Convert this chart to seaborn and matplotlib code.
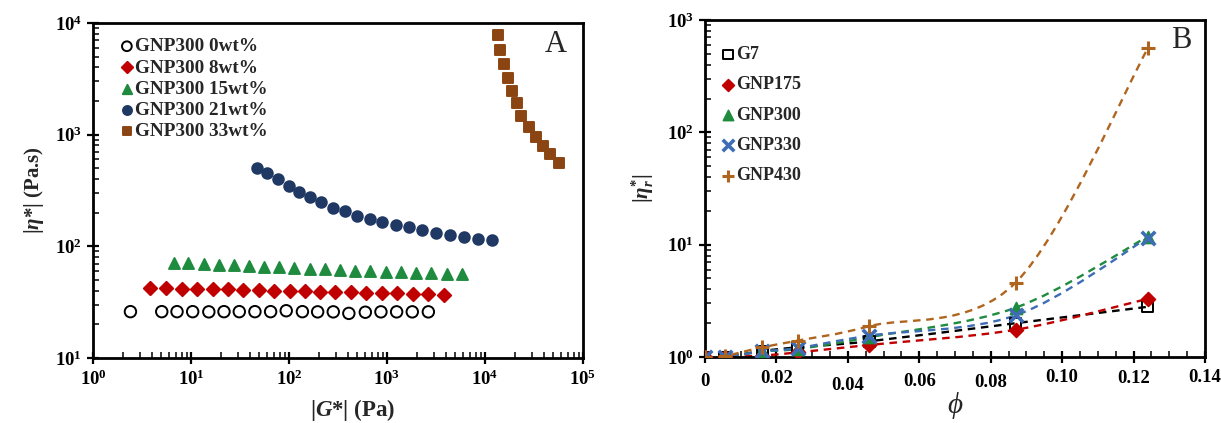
import numpy as np
import pandas as pd
import matplotlib
matplotlib.use("Agg")
import matplotlib.pyplot as plt
import matplotlib.transforms as mtransforms
from matplotlib.path import Path
from matplotlib.patches import PathPatch
from matplotlib.ticker import LogLocator, FuncFormatter, MultipleLocator, NullFormatter
import seaborn as sns

# ---------------- data: panel A (complex viscosity vs complex modulus) -------------
series_a = ["GNP300 0wt%", "GNP300 8wt%", "GNP300 15wt%", "GNP300 21wt%", "GNP300 33wt%"]

g_0 = [2.41, 5.03, 7.20, 10.4, 15.2, 21.7, 31.1, 44.9, 64.9, 93.7, 137, 196, 283,
       408, 601, 867, 1254, 1811, 2642]
eta_0 = [26.0, 26.0, 26.0, 26.0, 25.9, 26.0, 26.0, 26.0, 26.0, 26.5, 26.0, 25.9,
         25.9, 25.1, 25.7, 25.9, 25.9, 25.9, 25.9]

g_8 = [3.84, 5.55, 8.02, 11.6, 16.7, 24.0, 34.3, 49.1, 70.3, 102, 146, 208, 298,
       431, 617, 884, 1277, 1828, 2642, 3783]
eta_8 = [42.2, 42.0, 41.8, 41.6, 41.4, 41.1, 40.8, 40.5, 40.2, 39.9, 39.6, 39.3,
         39.0, 38.7, 38.4, 38.1, 37.9, 37.6, 37.3, 37.0]

g_15 = [6.70, 9.34, 13.5, 19.1, 27.7, 39.3, 55.7, 79.0, 113, 162, 234, 332, 471,
        669, 966, 1384, 1982, 2838, 4064, 5821]
eta_15 = [71.5, 70.5, 69.5, 68.5, 67.5, 66.5, 65.5, 64.7, 63.9, 63.0, 62.2, 61.4,
          60.6, 59.8, 59.1, 58.5, 58.0, 57.5, 57.0, 56.5]

g_21 = [46.9, 60.3, 77.4, 99.5, 127, 163, 214, 280, 370, 493, 664, 893, 1233,
        1675, 2296, 3141, 4385, 6109, 8511, 11780]
eta_21 = [506, 453, 397, 348, 308, 276, 247, 222, 206, 188, 176, 164, 155, 148,
          139, 133, 127, 122, 117, 113]

g_33 = [13480, 14360, 15700, 17180, 18790, 21120, 23530, 27920, 32820, 38930,
        46580, 56760]
eta_33 = [7852, 5673, 4283, 3207, 2467, 1911, 1482, 1181, 960, 791, 670, 561]

# ---------------- data: panel B (relative viscosity vs volume fraction) ------------
series_b = ["G7", "GNP175", "GNP300", "GNP330", "GNP430"]
phi = [0.0, 0.0055, 0.016, 0.026, 0.046, 0.087, 0.124]
rel_g7 = [1.0, 1.0, 1.13, 1.22, 1.38, 2.0, 2.8]
rel_gnp175 = [1.0, 1.0, 1.03, 1.10, 1.28, 1.75, 3.3]
rel_gnp300 = [1.0, 1.0, 1.12, 1.18, 1.50, 2.75, 11.8]
rel_gnp330 = [1.0, 1.0, 1.12, 1.20, 1.55, 2.35, 11.5]
rel_gnp430 = [1.0, 1.02, 1.22, 1.40, 1.88, 4.6, 560.0]
phi_ticks = [0.0, 0.02, 0.04, 0.06, 0.08, 0.10, 0.12, 0.14]

# ---------------- style ------------------------------------------------------------
sns.set_style("ticks")
plt.rcParams["font.family"] = ["Liberation Serif", "DejaVu Serif"]
plt.rcParams["font.weight"] = "bold"
plt.rcParams["mathtext.fontset"] = "custom"
plt.rcParams["mathtext.rm"] = "Liberation Serif:bold"
plt.rcParams["mathtext.bf"] = "Liberation Serif:bold"
plt.rcParams["mathtext.it"] = "Liberation Serif:italic:bold"
plt.rcParams["mathtext.bfit"] = "Liberation Serif:italic:bold"

RED = "#C00000"
GREEN = "#1E8B3E"
NAVY = "#203864"
BROWN_A = "#8B4513"
BLUE = "#3E6DB5"
BROWN_B = "#B0651E"
TICK_SIZE = 13.5

fig = plt.figure(figsize=(12.21, 4.23), dpi=100)
axA = fig.add_axes([93 / 1221, 1 - 358 / 423, 490 / 1221, 335 / 423])
axB = fig.add_axes([705 / 1221, 1 - 357 / 423, 500 / 1221, 337 / 423])


def pow10(v, _pos):
    e = int(round(np.log10(v)))
    return r"$10^{%d}$" % e


def style_axis(ax):
    for sp in ax.spines.values():
        sp.set_visible(True)
        sp.set_linewidth(2.0)
        sp.set_color("black")
    ax.tick_params(which="major", direction="inout", length=9, width=1.6,
                   labelsize=TICK_SIZE, colors="black", top=False, right=False)
    ax.tick_params(which="minor", direction="in", length=4, width=1.3,
                   top=False, right=False)


# ---------------- panel A ----------------------------------------------------------
frames_a = [
    (g_0, eta_0, "o", "none", "black", 68),
    (g_8, eta_8, "D", RED, RED, 46),
    (g_15, eta_15, "^", GREEN, GREEN, 62),
    (g_21, eta_21, "o", NAVY, NAVY, 58),
    (g_33, eta_33, "s", BROWN_A, BROWN_A, 52),
]
for name, (gx, ey, mk, fc, ec, size) in zip(series_a, frames_a):
    df = pd.DataFrame({"G": gx, "eta": ey})
    sns.scatterplot(data=df, x="G", y="eta", ax=axA, marker=mk, s=size,
                    facecolors=fc, edgecolors=ec, linewidths=1.4, label=name,
                    legend=False, zorder=3)

axA.set_xscale("log")
axA.set_yscale("log")
axA.set_xlim(1, 1e5)
axA.set_ylim(10, 1e4)
axA.xaxis.set_major_locator(LogLocator(base=10, numticks=10))
axA.yaxis.set_major_locator(LogLocator(base=10, numticks=10))
axA.xaxis.set_minor_locator(LogLocator(base=10, subs=np.arange(2, 10), numticks=20))
axA.yaxis.set_minor_locator(LogLocator(base=10, subs=np.arange(2, 10), numticks=20))
axA.xaxis.set_major_formatter(FuncFormatter(pow10))
axA.yaxis.set_major_formatter(FuncFormatter(pow10))
axA.xaxis.set_minor_formatter(NullFormatter())
axA.yaxis.set_minor_formatter(NullFormatter())
style_axis(axA)
axA.set_xlabel(r"|$\mathbfit{G}$*| (Pa)", fontsize=16.5, fontweight="bold")
axA.xaxis.set_label_coords(0.529, -0.115)
axA.set_ylabel(r"|$\mathbfit{\eta}$*| (Pa.s)", fontsize=15, fontweight="bold", labelpad=6)
axA.text(0.945, 0.935, "A", transform=axA.transAxes, fontsize=22,
         fontweight="normal", ha="center", va="center")
axA.legend(loc="upper left", bbox_to_anchor=(0.03, 0.99), frameon=False,
           fontsize=13.8, handletextpad=0.05, handlelength=0.8,
           labelspacing=0.2, borderaxespad=0.2, markerscale=0.85)

# ---------------- panel B ----------------------------------------------------------
xlim_b = (0.0, 0.14)
ylog_b = (0.0, 3.0)
box_w, box_h = 500.0, 337.0


def to_px(x, y):
    return (np.asarray(x) - xlim_b[0]) / (xlim_b[1] - xlim_b[0]) * box_w, \
        (np.log10(np.asarray(y)) - ylog_b[0]) / (ylog_b[1] - ylog_b[0]) * box_h


def from_px(u, v):
    x = xlim_b[0] + u / box_w * (xlim_b[1] - xlim_b[0])
    y = 10 ** (ylog_b[0] + v / box_h * (ylog_b[1] - ylog_b[0]))
    return x, y


def smooth_curve(ax, xs, ys, color):
    """Dashed smoothed connector built from cubic Bezier segments."""
    u, v = to_px(xs, ys)
    pts = np.column_stack([u, v])
    n = len(pts)
    verts = [from_px(*pts[0])]
    codes = [Path.MOVETO]
    for i in range(n - 1):
        p0 = pts[i - 1] if i > 0 else pts[i]
        p1, p2 = pts[i], pts[i + 1]
        p3 = pts[i + 2] if i + 2 < n else pts[i + 1]
        c1 = p1 + (p2 - p0) / 6.0
        c2 = p2 - (p3 - p1) / 6.0
        verts += [from_px(*c1), from_px(*c2), from_px(*p2)]
        codes += [Path.CURVE4] * 3
    patch = PathPatch(Path(verts, codes), facecolor="none", edgecolor=color,
                      lw=1.7, linestyle=(0, (3.2, 2.4)), zorder=2)
    ax.add_patch(patch)


lines_b = [
    (rel_g7, "black"),
    (rel_gnp175, RED),
    (rel_gnp300, GREEN),
    (rel_gnp330, BLUE),
    (rel_gnp430, BROWN_B),
]
for vals, col in lines_b:
    smooth_curve(axB, phi, vals, col)

marks_b = [
    (rel_g7, "s", "none", "black", 60, 1.4),
    (rel_gnp175, "D", RED, RED, 50, 1.2),
    (rel_gnp300, "^", GREEN, GREEN, 75, 1.2),
    (rel_gnp330, "x", BLUE, BLUE, 95, 2.6),
    (rel_gnp430, "+", BROWN_B, BROWN_B, 110, 2.2),
]
for name, (vals, mk, fc, ec, size, lw) in zip(series_b, marks_b):
    df = pd.DataFrame({"phi": phi, "rel": vals})
    if mk in ("x", "+"):
        sns.scatterplot(data=df, x="phi", y="rel", ax=axB, marker=mk, s=size,
                        color=ec, linewidths=lw, label=name, legend=False, zorder=3)
    else:
        sns.scatterplot(data=df, x="phi", y="rel", ax=axB, marker=mk, s=size,
                        facecolors=fc, edgecolors=ec, linewidths=lw, label=name,
                        legend=False, zorder=3)

axB.set_yscale("log")
axB.set_xlim(*xlim_b)
axB.set_ylim(10 ** ylog_b[0], 10 ** ylog_b[1])
axB.set_xticks(phi_ticks)
axB.xaxis.set_minor_locator(MultipleLocator(0.005))
axB.xaxis.set_major_formatter(FuncFormatter(lambda v, p: "0" if abs(v) < 1e-9 else f"{v:.2f}"))
axB.yaxis.set_major_locator(LogLocator(base=10, numticks=10))
axB.yaxis.set_minor_locator(LogLocator(base=10, subs=np.arange(2, 10), numticks=20))
axB.yaxis.set_major_formatter(FuncFormatter(pow10))
axB.yaxis.set_minor_formatter(NullFormatter())
style_axis(axB)
axB.tick_params(axis="x", which="major", pad=5)

# the labels on the phi axis sit at slightly uneven heights
label_drop_pt = [2, 0, 5, 2, 3, -1, 0, -1]
for lab, dy in zip(axB.get_xticklabels(), label_drop_pt):
    lab.set_transform(lab.get_transform() +
                      mtransforms.ScaledTranslation(0, -dy / 72, fig.dpi_scale_trans))

axB.set_xlabel("\u03d5", fontsize=21, fontweight="normal", fontstyle="italic")
axB.xaxis.set_label_coords(0.5, -0.105)
axB.set_ylabel(r"$|\mathbfit{\eta}^{*}_{\mathit{r}}|$", fontsize=15, labelpad=8)
axB.text(0.952, 0.938, "B", transform=axB.transAxes, fontsize=22,
         fontweight="normal", ha="center", va="center")
axB.legend(loc="upper left", bbox_to_anchor=(0.01, 0.955), frameon=False,
           fontsize=13, handletextpad=0.05, handlelength=0.8,
           labelspacing=0.74, borderaxespad=0.2, markerscale=0.85)

fig.savefig("out.png", dpi=100)
